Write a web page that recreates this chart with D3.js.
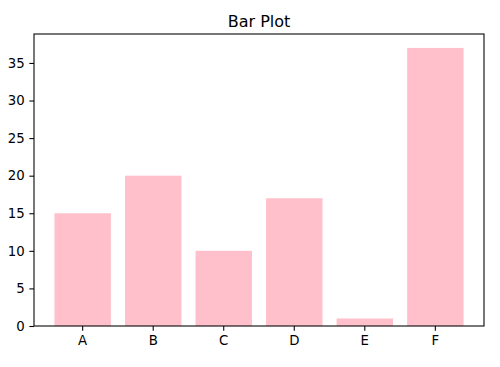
<!DOCTYPE html>
<html>
<head>
<meta charset="utf-8">
<script src="https://cdn.jsdelivr.net/npm/d3@7"></script>
<style>
html, body { margin: 0; padding: 0; background: #fff; }
svg { display: block; }
text { font-family: "DejaVu Sans", sans-serif; }
</style>
</head>
<body>
<script>
const categories = ["A", "B", "C", "D", "E", "F"];
const values = [15, 20, 10, 17, 1, 37];
const yTicks = [0, 5, 10, 15, 20, 25, 30, 35];
const title = "Bar Plot";

(function () {
const W = 500, H = 367;
const mLeft = 34, mRight = 484, mTop = 34, mBottom = 326;

const svg = d3.select("body").append("svg").attr("width", W).attr("height", H);

const x = d3.scaleBand().domain(categories).range([mLeft, mRight])
  .paddingInner(0.2).paddingOuter(0.29);
const yMax = d3.max(values) * 1.05;
const y = d3.scaleLinear().domain([0, yMax]).range([mBottom, mTop]);

svg.append("g").selectAll("rect").data(values).join("rect")
  .attr("x", (d, i) => x(categories[i]))
  .attr("width", x.bandwidth())
  .attr("y", d => y(d))
  .attr("height", d => y(0) - y(d))
  .attr("fill", "#ffc0cb");

const tickLen = 4.67, tickPad = 4.67;

const xAxis = svg.append("g").attr("transform", `translate(0,${mBottom})`)
  .call(d3.axisBottom(x).tickSize(tickLen).tickPadding(tickPad).tickSizeOuter(0));
const yAxis = svg.append("g").attr("transform", `translate(${mLeft},0)`)
  .call(d3.axisLeft(y).tickValues(yTicks).tickSize(tickLen).tickPadding(tickPad).tickSizeOuter(0));

[xAxis, yAxis].forEach(g => {
  g.select(".domain").remove();
  g.selectAll(".tick line").attr("stroke", "#000").attr("stroke-width", 1.07);
  g.selectAll(".tick text").attr("fill", "#000").style("font-size", "13.3px")
    .style("font-family", "'DejaVu Sans', sans-serif");
});

svg.append("rect").attr("x", mLeft).attr("y", mTop)
  .attr("width", mRight - mLeft).attr("height", mBottom - mTop)
  .attr("fill", "none").attr("stroke", "#000").attr("stroke-width", 1.07);

svg.append("text").attr("x", (mLeft + mRight) / 2).attr("y", 26.5)
  .attr("text-anchor", "middle").style("font-size", "16px").attr("fill", "#000")
  .text(title);
})();
</script>
</body>
</html>
